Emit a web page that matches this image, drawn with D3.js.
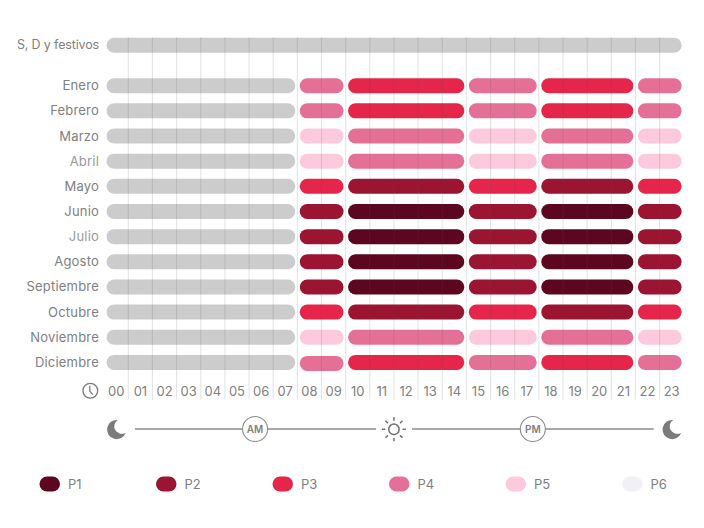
<!DOCTYPE html>
<html>
<head>
<meta charset="utf-8">
<script src="https://cdn.jsdelivr.net/npm/d3@7"></script>
<style>
html, body { margin: 0; padding: 0; background: #fff; }
text { font-family: "Inter", "Noto Sans", sans-serif; fill: #808080; }
</style>
</head>
<body>
<div id="chart"></div>
<script>
// data
var months = ["Enero", "Febrero", "Marzo", "Abril", "Mayo", "Junio", "Julio", "Agosto", "Septiembre", "Octubre", "Noviembre", "Diciembre"];
var hours = ["00", "01", "02", "03", "04", "05", "06", "07", "08", "09", "10", "11", "12", "13", "14", "15", "16", "17", "18", "19", "20", "21", "22", "23"];
var periods = ["P1", "P2", "P3", "P4", "P5", "P6"];
var periodColors = ["#5d0620", "#9b1431", "#e52549", "#e47096", "#fdc9dc", "#f0f0f5"];
var holidayLabel = "S, D y festivos";
// hour where each block starts and ends
var blockStart = [0, 8, 10, 15, 18, 22];
var blockEnd = [8, 10, 15, 18, 22, 24];
// period of each block, month by month ("-" is the grey night block)
var enero = ["-", "P4", "P3", "P4", "P3", "P4"];
var febrero = ["-", "P4", "P3", "P4", "P3", "P4"];
var marzo = ["-", "P5", "P4", "P5", "P4", "P5"];
var abril = ["-", "P5", "P4", "P5", "P4", "P5"];
var mayo = ["-", "P3", "P2", "P3", "P2", "P3"];
var junio = ["-", "P2", "P1", "P2", "P1", "P2"];
var julio = ["-", "P2", "P1", "P2", "P1", "P2"];
var agosto = ["-", "P2", "P1", "P2", "P1", "P2"];
var septiembre = ["-", "P2", "P1", "P2", "P1", "P2"];
var octubre = ["-", "P3", "P2", "P3", "P2", "P3"];
var noviembre = ["-", "P5", "P4", "P5", "P4", "P5"];
var diciembre = ["-", "P4", "P3", "P4", "P3", "P4"];
var monthBlocks = [enero, febrero, marzo, abril, mayo, junio, julio, agosto, septiembre, octubre, noviembre, diciembre];
var lighterLabels = ["Abril", "Julio"];

var width = 704, height = 528;
var greyBar = "#cccccc";
var barH = 15;

var svg = d3.select("#chart").append("svg")
    .attr("width", width)
    .attr("height", height)
    .style("display", "block");

var x = d3.scaleLinear().domain([0, 24]).range([104.15, 683.75]);
var y = d3.scalePoint().domain(months).range([85.7, 362.4]);
var color = d3.scaleOrdinal().domain(periods).range(periodColors).unknown(greyBar);
var legendX = d3.scalePoint().domain(periods).range([39.5, 622]);

//--------------------------bars-----------------------------
function bar(sel, from, to, cy, fill) {
    sel.append("rect")
        .attr("x", x(from) + 2.4)
        .attr("y", cy - barH / 2)
        .attr("width", x(to) - x(from) - 4.5)
        .attr("height", barH)
        .attr("rx", 7.5)
        .attr("fill", fill);
}

var bars = svg.append("g").attr("class", "bars");
bar(bars, 0, 24, 45.3, greyBar);

months.forEach(function (m, i) {
    monthBlocks[i].forEach(function (p, j) {
        // the morning block of Diciembre sits a pixel low in the original
        var nudge = (m === "Diciembre" && j === 1) ? 1 : 0;
        bar(bars, blockStart[j], blockEnd[j], y(m) + nudge, color(p));
    });
});

//--------------------------grid lines, drawn over the bars-----------------------------
svg.append("g").selectAll("line")
    .data(d3.range(1, 24))
    .enter().append("line")
    .attr("x1", function (d) { return x(d); })
    .attr("x2", function (d) { return x(d); })
    .attr("y1", 37)
    .attr("y2", 399.5)
    .attr("stroke", "#555")
    .attr("stroke-opacity", 0.16)
    .attr("stroke-width", 1.1);

//--------------------------labels-----------------------------
svg.append("text")
    .attr("x", 99)
    .attr("y", 45)
    .attr("dy", "0.35em")
    .attr("text-anchor", "end")
    .style("font-size", "12.5px")
    .style("letter-spacing", "-0.15px")
    .text(holidayLabel);

svg.append("g").selectAll("text")
    .data(months)
    .enter().append("text")
    .attr("x", 99)
    .attr("y", function (d) { return y(d); })
    .attr("dy", "0.35em")
    .attr("text-anchor", "end")
    .style("font-size", "13px")
    .style("letter-spacing", "0.2px")
    .style("fill", function (d) { return lighterLabels.indexOf(d) >= 0 ? "#9a9a9a" : "#808080"; })
    .text(function (d) { return d; });

svg.append("g").selectAll("text")
    .data(hours)
    .enter().append("text")
    .attr("x", function (d, i) { return x(i + 0.5); })
    .attr("y", 391)
    .attr("dy", "0.35em")
    .attr("text-anchor", "middle")
    .style("font-size", "13px")
    .text(function (d) { return d; });

//clock
var clock = svg.append("g").attr("transform", "translate(90.3,390.7)")
    .attr("fill", "none").attr("stroke", "#7b7b7b").attr("stroke-width", 1.3);
clock.append("circle").attr("r", 7.4);
clock.append("path").attr("d", "M-0.5,-5V0.5L2.5,4");

//--------------------------day timeline-----------------------------
var tlY = 429;
var timeline = svg.append("g");
timeline.append("line")
    .attr("x1", 135).attr("x2", 376).attr("y1", tlY).attr("y2", tlY)
    .attr("stroke", "#8c8c8c").attr("stroke-width", 1.3);
timeline.append("line")
    .attr("x1", 412).attr("x2", 653.7).attr("y1", tlY).attr("y2", tlY)
    .attr("stroke", "#8c8c8c").attr("stroke-width", 1.3);

[["AM", 6.25], ["PM", 17.75]].forEach(function (d) {
    var g = timeline.append("g").attr("transform", "translate(" + x(d[1]) + "," + tlY + ")");
    g.append("circle").attr("r", 12.5).attr("fill", "#fff").attr("stroke", "#8c8c8c").attr("stroke-width", 1.1);
    g.append("text")
        .attr("y", 0.5)
        .attr("dy", "0.35em")
        .attr("text-anchor", "middle")
        .style("font-size", "10px")
        .style("font-weight", 600)
        .text(d[0]);
});

[0.5, 23.5].forEach(function (h) {
    timeline.append("path")
        .attr("transform", "translate(" + x(h) + ",429.5)")
        .attr("d", "M1.5,-9.5A9.6,9.6 0 1 0 9.5,3.2A7,7 0 0 1 1.5,-9.5Z")
        .attr("fill", "#7b7b7b");
});

var sun = timeline.append("g").attr("transform", "translate(" + x(12) + ",429.3)")
    .attr("fill", "none").attr("stroke", "#6f6f6f").attr("stroke-width", 1.5);
sun.append("circle").attr("r", 5.2);
d3.range(8).forEach(function (i) {
    var a = i * Math.PI / 4;
    sun.append("line")
        .attr("x1", 8.6 * Math.cos(a)).attr("y1", 8.6 * Math.sin(a))
        .attr("x2", 12 * Math.cos(a)).attr("y2", 12 * Math.sin(a));
});

//--------------------------legend-----------------------------
var legend = svg.append("g").selectAll("g")
    .data(periods)
    .enter().append("g")
    .attr("transform", function (d) { return "translate(" + legendX(d) + ",484)"; });
legend.append("rect")
    .attr("y", -7.5)
    .attr("width", 20.5)
    .attr("height", 15)
    .attr("rx", 7.5)
    .attr("fill", function (d) { return color(d); });
legend.append("text")
    .attr("x", 28.5)
    .attr("dy", "0.35em")
    .style("font-size", "13px")
    .text(function (d) { return d; });
</script>
</body>
</html>
